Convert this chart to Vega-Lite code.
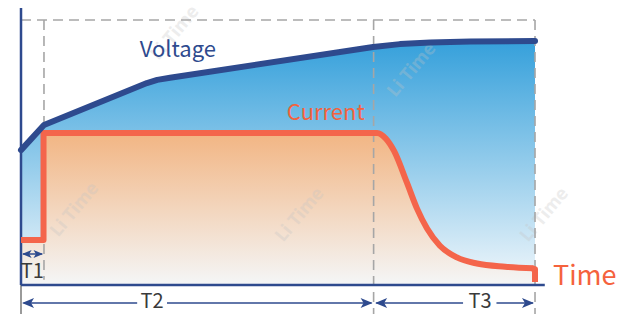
{
  "$schema": "https://vega.github.io/schema/vega-lite/v6.json",
  "width": 617,
  "height": 314,
  "padding": 0,
  "autosize": {"type": "none"},
  "background": "white",
  "config": {"view": {"stroke": null}},
  "datasets": {
    "voltage": [
      {"t": 0, "v": 50.9}, {"t": 4.47, "v": 60.4}, {"t": 24.5, "v": 76.2}, {"t": 26.5, "v": 77.4},
      {"t": 29, "v": 78.2}, {"t": 68.5, "v": 89.8}, {"t": 73.7, "v": 90.9}, {"t": 79.6, "v": 91.5},
      {"t": 87.4, "v": 91.9}, {"t": 100, "v": 92.1}
    ],
    "current": [
      {"t": 0, "v": 17.0}, {"t": 4.38, "v": 17.0}, {"t": 4.38, "v": 57.4}, {"t": 69.3, "v": 57.4},
      {"t": 70.4, "v": 56.2}, {"t": 71.4, "v": 53.6}, {"t": 72.4, "v": 49.8}, {"t": 75.1, "v": 37.0},
      {"t": 77.0, "v": 28.3}, {"t": 79.0, "v": 20.8}, {"t": 81.5, "v": 14.3}, {"t": 84.8, "v": 10.2},
      {"t": 88.7, "v": 7.9}, {"t": 94.2, "v": 6.8}, {"t": 99.6, "v": 6.4}, {"t": 100, "v": 6.0},
      {"t": 100, "v": 1.1}
    ],
    "currentStep": [
      {"t": 0, "v": 17.0}, {"t": 4.38, "v": 17.0}, {"t": 4.38, "v": 57.4}, {"t": 69.0, "v": 57.4}
    ],
    "currentDecay": [
      {"t": 66.0, "v": 57.4}, {"t": 69.3, "v": 57.4}, {"t": 71.0, "v": 55.2}, {"t": 72.6, "v": 50.5},
      {"t": 75.1, "v": 38.5}, {"t": 77.0, "v": 29.0}, {"t": 79.0, "v": 21.3}, {"t": 81.5, "v": 14.8},
      {"t": 84.8, "v": 10.4}, {"t": 88.7, "v": 8.1}, {"t": 94.2, "v": 6.9}, {"t": 99.7, "v": 6.3}
    ],
    "currentEnd": [
      {"t": 99.4, "v": 6.3}, {"t": 100, "v": 6.0}, {"t": 100, "v": 1.1}
    ],
    "dashes": [
      {"t": 0, "t2": 100, "v": 100, "v2": 100},
      {"t": 4.47, "t2": 4.47, "v": 100, "v2": 2},
      {"t": 68.6, "t2": 68.6, "v": 100, "v2": -11},
      {"t": 100, "t2": 100, "v": 100, "v2": -11}
    ],
    "axes": [
      {"t": 0, "t2": 0, "v": 0, "v2": 104.5},
      {"t": 0, "t2": 101.9, "v": 0, "v2": 0}
    ],
    "greyTick": [
      {"t": 0, "t2": 0, "v": 0, "v2": -11}
    ],
    "arrowLines": [
      {"t": 0.4, "t2": 4.1, "v": 11.7, "v2": 11.7},
      {"t": 0.5, "t2": 22.6, "v": -6.8, "v2": -6.8},
      {"t": 28.4, "t2": 68.2, "v": -6.8, "v2": -6.8},
      {"t": 69.1, "t2": 86.0, "v": -6.8, "v2": -6.8},
      {"t": 92.5, "t2": 99.6, "v": -6.8, "v2": -6.8}
    ],
    "bigHeads": [
      {"t": 0.2, "v": -6.8, "dir": "left"},
      {"t": 68.4, "v": -6.8, "dir": "right"},
      {"t": 68.9, "v": -6.8, "dir": "left"},
      {"t": 99.8, "v": -6.8, "dir": "right"}
    ],
    "smallHeads": [
      {"t": 0.2, "v": 11.7, "dir": "left"},
      {"t": 4.3, "v": 11.7, "dir": "right"}
    ],
    "tLabels": [
      {"t": 2.2, "v": 2.6, "label": "T1"},
      {"t": 25.5, "v": -8.7, "label": "T2"},
      {"t": 89.3, "v": -8.7, "label": "T3"}
    ],
    "watermarks": [
      {"t": 10.5, "v": 28.3, "label": "Li Time"},
      {"t": 54.3, "v": 26.4, "label": "Li Time"},
      {"t": 101.9, "v": 26.4, "label": "Li Time"},
      {"t": 30.0, "v": 95.0, "label": "Li Time"},
      {"t": 76.1, "v": 81.1, "label": "Li Time"}
    ]
  },
  "encoding": {
    "x": {"field": "t", "type": "quantitative", "axis": null,
          "scale": {"domain": [-4.086, 115.95], "nice": false, "zero": false}},
    "y": {"field": "v", "type": "quantitative", "axis": null,
          "scale": {"domain": [-10.943, 107.547], "nice": false, "zero": false}}
  },
  "layer": [
    {
      "data": {"name": "voltage"},
      "mark": {"type": "area", "color": {"gradient": "linear", "x1": 0, "y1": 0, "x2": 0, "y2": 1,
        "stops": [{"offset": 0, "color": "#35a0db"}, {"offset": 1, "color": "#f1f7fb"}]}},
      "encoding": {"y2": {"datum": 0}}
    },
    {
      "data": {"name": "current"},
      "mark": {"type": "area", "color": {"gradient": "linear", "x1": 0, "y1": 0, "x2": 0, "y2": 1,
        "stops": [{"offset": 0, "color": "#f2b583"}, {"offset": 1, "color": "#f4f6f7"}]}},
      "encoding": {"y2": {"datum": 0}}
    },
    {
      "data": {"name": "watermarks"},
      "mark": {"type": "text", "font": "Noto Sans", "fontWeight": "bold", "fontSize": 18, "angle": 310, "color": "#c4c4c4", "opacity": 0.3, "align": "center", "baseline": "middle"},
      "encoding": {"text": {"field": "label"}}
    },
    {
      "data": {"name": "dashes"},
      "mark": {"type": "rule", "color": "#a6a6a6", "strokeWidth": 1.6, "strokeDash": [10, 6]},
      "encoding": {"x2": {"field": "t2"}, "y2": {"field": "v2"}}
    },
    {
      "data": {"name": "greyTick"},
      "mark": {"type": "rule", "color": "#9a9a9a", "strokeWidth": 2},
      "encoding": {"x2": {"field": "t2"}, "y2": {"field": "v2"}}
    },
    {
      "data": {"name": "axes"},
      "mark": {"type": "rule", "color": "#2e4a8e", "strokeWidth": 2.5},
      "encoding": {"x2": {"field": "t2"}, "y2": {"field": "v2"}}
    },
    {
      "data": {"name": "currentStep"},
      "mark": {"type": "line", "color": "#f4654b", "strokeWidth": 6, "strokeJoin": "round", "strokeCap": "butt"},
      "encoding": {}
    },
    {
      "data": {"name": "currentDecay"},
      "mark": {"type": "line", "color": "#f4654b", "strokeWidth": 6, "strokeJoin": "round", "strokeCap": "butt", "interpolate": "monotone"},
      "encoding": {}
    },
    {
      "data": {"name": "currentEnd"},
      "mark": {"type": "line", "color": "#f4654b", "strokeWidth": 6, "strokeJoin": "round", "strokeCap": "butt"},
      "encoding": {}
    },
    {
      "data": {"name": "voltage"},
      "mark": {"type": "line", "color": "#2e4a8e", "strokeWidth": 6, "strokeJoin": "round", "strokeCap": "round"},
      "encoding": {}
    },
    {
      "data": {"name": "arrowLines"},
      "mark": {"type": "rule", "color": "#2e4a8e", "strokeWidth": 1.5},
      "encoding": {"x2": {"field": "t2"}, "y2": {"field": "v2"}}
    },
    {
      "data": {"name": "bigHeads"},
      "mark": {"type": "point", "filled": true, "color": "#2e4a8e", "size": 100, "opacity": 1},
      "encoding": {"shape": {"field": "dir", "type": "nominal", "legend": null,
        "scale": {"domain": ["left", "right"], "range": ["M0,0 L2.4,-1 L1.8,0 L2.4,1 Z", "M0,0 L-2.4,-1 L-1.8,0 L-2.4,1 Z"]}}}
    },
    {
      "data": {"name": "smallHeads"},
      "mark": {"type": "point", "filled": true, "color": "#2e4a8e", "size": 64, "opacity": 1},
      "encoding": {"shape": {"field": "dir", "type": "nominal", "legend": null,
        "scale": {"domain": ["left", "right"], "range": ["M0,0 L2.4,-1 L1.8,0 L2.4,1 Z", "M0,0 L-2.4,-1 L-1.8,0 L-2.4,1 Z"]}}}
    },
    {
      "data": {"name": "tLabels"},
      "mark": {"type": "text", "font": "Noto Sans CJK SC", "fontSize": 20, "color": "#3a3a3a", "align": "center", "baseline": "alphabetic"},
      "encoding": {"text": {"field": "label"}}
    },
    {
      "data": {"values": [{"t": 30.5, "v": 86.0, "label": "Voltage"}]},
      "mark": {"type": "text", "font": "Noto Sans CJK SC", "fontSize": 22, "color": "#2e4a8e", "align": "center", "baseline": "alphabetic"},
      "encoding": {"text": {"field": "label"}}
    },
    {
      "data": {"values": [{"t": 59.3, "v": 62.3, "label": "Current"}]},
      "mark": {"type": "text", "font": "Noto Sans CJK SC", "fontSize": 22, "color": "#f5623d", "align": "center", "baseline": "alphabetic"},
      "encoding": {"text": {"field": "label"}}
    },
    {
      "data": {"values": [{"t": 103.5, "v": 0, "label": "Time"}]},
      "mark": {"type": "text", "font": "Noto Sans CJK SC", "fontSize": 27, "color": "#f5623d", "align": "left", "baseline": "alphabetic"},
      "encoding": {"text": {"field": "label"}}
    },
    {
      "data": {"values": [{"t": -0.58, "v": 110.3, "label": "g"}]},
      "mark": {"type": "text", "font": "Noto Sans CJK SC", "fontSize": 27, "color": "#f5623d", "align": "center", "baseline": "alphabetic"},
      "encoding": {"text": {"field": "label"}}
    }
  ]
}
